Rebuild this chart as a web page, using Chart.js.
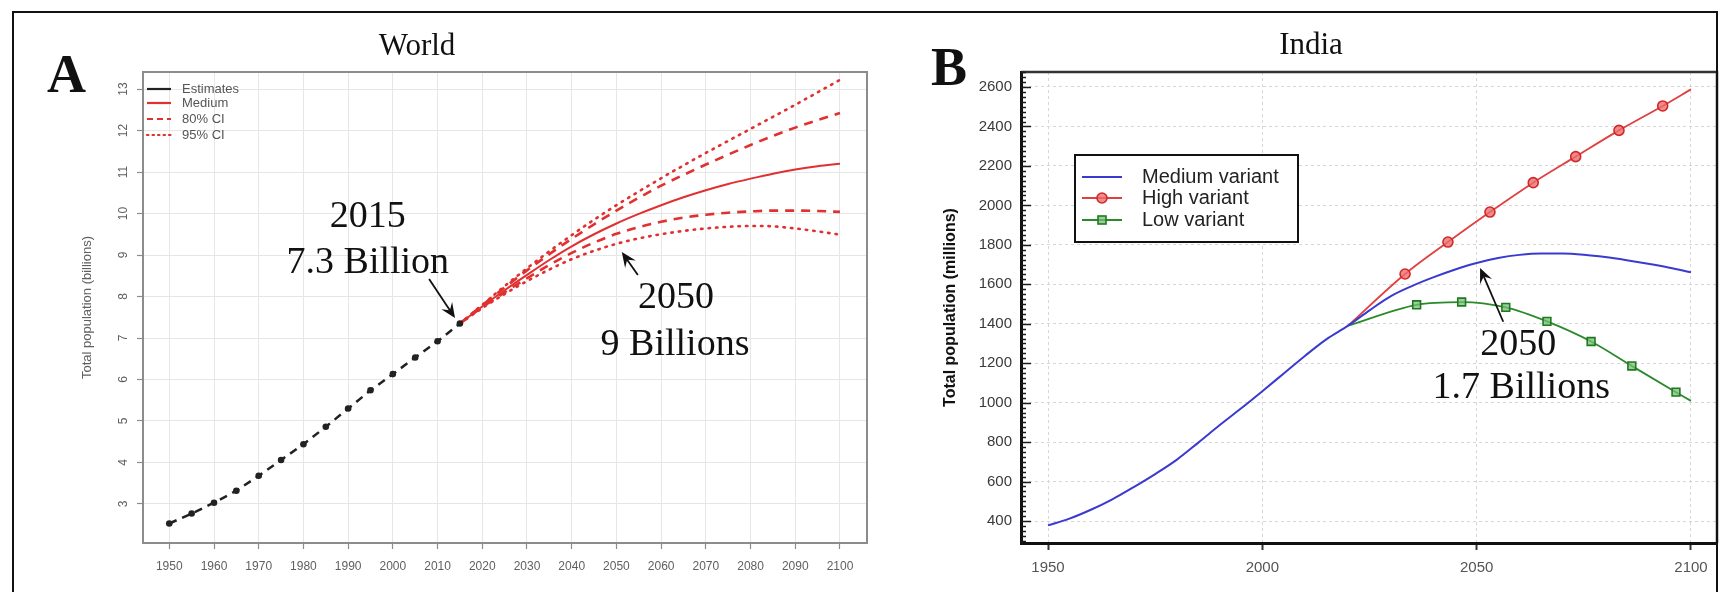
<!DOCTYPE html>
<html lang="en">
<head>
<meta charset="utf-8">
<title>Population projections: World and India</title>
<script src="https://cdn.jsdelivr.net/npm/chart.js@4.4.1/dist/chart.umd.min.js"></script>
<style>
  html, body { margin: 0; padding: 0; background: #ffffff; }
  #page { position: relative; width: 1720px; height: 592px; overflow: hidden; background: #fff; }
  #worldCanvas { position: absolute; left: 0; top: 0; }
  #indiaCanvas { position: absolute; left: 880px; top: 0; }
  #frame { position: absolute; left: 12px; top: 11px; width: 1702px; height: 640px;
           border: 2px solid #111; border-bottom: none; pointer-events: none; }
</style>
</head>
<body>
<div id="page">
  <canvas id="worldCanvas" width="880" height="592"></canvas>
  <canvas id="indiaCanvas" width="840" height="592"></canvas>
  <div id="frame"></div>
</div>
<script>
// ---------- World (billions) ----------
const worldEstYears = [1950, 1955, 1960, 1965, 1970, 1975, 1980, 1985, 1990, 1995, 2000, 2005, 2010, 2015];
const worldEstimates = [2.53, 2.77, 3.03, 3.32, 3.68, 4.06, 4.44, 4.86, 5.30, 5.74, 6.13, 6.53, 6.92, 7.35];

const worldProjYears = [2015, 2020, 2025, 2030, 2035, 2040, 2045, 2050, 2055, 2060, 2065, 2070, 2075, 2080, 2085, 2090, 2095, 2100];
const worldMedium  = [7.35, 7.76, 8.15, 8.52, 8.88, 9.21, 9.50, 9.76, 9.99, 10.20, 10.39, 10.56, 10.71, 10.84, 10.96, 11.06, 11.14, 11.20];
const world80Upper = [7.35, 7.79, 8.22, 8.63, 9.02, 9.39, 9.74, 10.07, 10.38, 10.67, 10.93, 11.18, 11.42, 11.65, 11.87, 12.07, 12.25, 12.42];
const world80Lower = [7.35, 7.74, 8.10, 8.44, 8.76, 9.05, 9.30, 9.51, 9.67, 9.80, 9.90, 9.97, 10.02, 10.05, 10.07, 10.07, 10.06, 10.04];
const world95Upper = [7.35, 7.80, 8.25, 8.68, 9.09, 9.48, 9.85, 10.20, 10.53, 10.85, 11.16, 11.46, 11.75, 12.04, 12.33, 12.62, 12.92, 13.22];
const world95Lower = [7.35, 7.72, 8.06, 8.37, 8.65, 8.90, 9.10, 9.27, 9.40, 9.50, 9.58, 9.64, 9.68, 9.70, 9.69, 9.64, 9.57, 9.49];

const worldXTicks = [1950, 1960, 1970, 1980, 1990, 2000, 2010, 2020, 2030, 2040, 2050, 2060, 2070, 2080, 2090, 2100];
const worldYTicks = [3, 4, 5, 6, 7, 8, 9, 10, 11, 12, 13];
const worldLegendLabels = ['Estimates', 'Medium', '80% CI', '95% CI'];

// ---------- India (millions) ----------
const indiaYears = [1950, 1955, 1960, 1965, 1970, 1975, 1980, 1985, 1990, 1995, 2000, 2005, 2010, 2015, 2020,
                    2025, 2030, 2035, 2040, 2045, 2050, 2055, 2060, 2065, 2070, 2075, 2080, 2085, 2090, 2095, 2100];
const indiaMedium = [378, 412, 457, 510, 572, 638, 710, 796, 885, 970, 1058, 1148, 1238, 1322, 1390,
                     1468, 1540, 1592, 1636, 1675, 1708, 1733, 1749, 1756, 1756, 1750, 1738, 1722, 1704, 1684, 1661];
const indiaHighYears = [2020, 2033.3, 2043.3, 2053.1, 2063.2, 2073.1, 2083.2, 2093.4, 2100];
const indiaHigh      = [1390, 1652, 1814, 1966, 2115, 2247, 2380, 2504, 2588];
const indiaLowYears  = [2020, 2036.0, 2046.5, 2056.8, 2066.4, 2076.7, 2086.2, 2096.5, 2100];
const indiaLow       = [1390, 1496, 1510, 1483, 1412, 1310, 1186, 1053, 1009];

const indiaXTicks = [1950, 2000, 2050, 2100];
const indiaYTicks = [400, 600, 800, 1000, 1200, 1400, 1600, 1800, 2000, 2200, 2400, 2600];

// ---------- helpers ----------
const pairs = (xs, ys) => xs.map((x, i) => ({ x: x, y: ys[i] }));
const RED = '#e03030';
const SANS = "'Liberation Sans', Arial, sans-serif";
const SERIF = "'Liberation Serif', 'Times New Roman', serif";

function drawArrow(ctx, x0, y0, x1, y1) {
  const a = Math.atan2(y1 - y0, x1 - x0);
  const L = 15, W = 6.5;
  const c = Math.cos(a), s = Math.sin(a);
  ctx.save();
  ctx.strokeStyle = '#111';
  ctx.fillStyle = '#111';
  ctx.lineWidth = 1.8;
  ctx.beginPath();
  ctx.moveTo(x0, y0);
  ctx.lineTo(x1 - L * 0.6 * c, y1 - L * 0.6 * s);
  ctx.stroke();
  ctx.beginPath();
  ctx.moveTo(x1, y1);
  ctx.lineTo(x1 - L * c + W * s, y1 - L * s - W * c);
  ctx.lineTo(x1 - L * 0.62 * c, y1 - L * 0.62 * s);
  ctx.lineTo(x1 - L * c - W * s, y1 - L * s + W * c);
  ctx.closePath();
  ctx.fill();
  ctx.restore();
}

function label(ctx, text, x, y, font, align) {
  ctx.font = font;
  ctx.fillStyle = '#111';
  ctx.textAlign = align || 'center';
  ctx.textBaseline = 'middle';
  ctx.fillText(text, x, y);
}

// ---------- World panel decorations: box, legend, notes, headings ----------
const worldDecor = {
  id: 'worldDecor',
  afterDatasetsDraw(chart) {
    const { ctx, chartArea: ca, scales: { x, y } } = chart;
    ctx.save();
    // plot box
    ctx.strokeStyle = '#8c8c8c';
    ctx.lineWidth = 2;
    ctx.strokeRect(ca.left, ca.top, ca.right - ca.left, ca.bottom - ca.top);

    // legend (one row per line style)
    const styles = [chart.data.datasets[0], chart.data.datasets[1], chart.data.datasets[2], chart.data.datasets[4]];
    const dashes = [[], [], [6, 4], [1.5, 4]];
    const rowY = [17, 31, 47, 63];
    worldLegendLabels.forEach((txt, i) => {
      const ds = styles[i];
      const yy = ca.top + rowY[i];
      ctx.save();
      ctx.strokeStyle = ds.borderColor;
      ctx.lineWidth = 2.2;
      ctx.lineCap = ds.borderCapStyle || 'butt';
      ctx.setLineDash(dashes[i]);
      ctx.beginPath();
      ctx.moveTo(ca.left + 4, yy);
      ctx.lineTo(ca.left + 28, yy);
      ctx.stroke();
      ctx.restore();
      ctx.font = '13px ' + SANS;
      ctx.fillStyle = '#555';
      ctx.textAlign = 'left';
      ctx.textBaseline = 'middle';
      ctx.fillText(txt, ca.left + 39, yy);
    });

    // notes with arrows
    const big = '38px ' + SERIF;
    label(ctx, '2015', x.getPixelForValue(1994.4), y.getPixelForValue(9.92), big);
    label(ctx, '7.3 Billion', x.getPixelForValue(1994.4), y.getPixelForValue(8.81), big);
    drawArrow(ctx, x.getPixelForValue(2008.1), y.getPixelForValue(8.42),
                   x.getPixelForValue(2013.9), y.getPixelForValue(7.48));
    label(ctx, '2050', x.getPixelForValue(2063.3), y.getPixelForValue(7.96), big);
    label(ctx, '9 Billions', x.getPixelForValue(2063.1), y.getPixelForValue(6.83), big);
    drawArrow(ctx, x.getPixelForValue(2054.8), y.getPixelForValue(8.52),
                   x.getPixelForValue(2051.2), y.getPixelForValue(9.07));

    // headings
    ctx.fillStyle = '#111';
    ctx.textBaseline = 'alphabetic';
    ctx.font = '31px ' + SERIF;
    ctx.textAlign = 'center';
    ctx.fillText('World', 417, 55);
    ctx.font = 'bold 54px ' + SERIF;
    ctx.textAlign = 'left';
    ctx.fillText('A', 47, 92);
    ctx.restore();
  }
};

// ---------- India panel decorations ----------
const indiaDecor = {
  id: 'indiaDecor',
  afterDatasetsDraw(chart) {
    const { ctx, chartArea: ca, scales: { x, y } } = chart;
    ctx.save();
    // top and right frame of the plot
    ctx.strokeStyle = '#333';
    ctx.lineWidth = 2.5;
    ctx.beginPath();
    ctx.moveTo(ca.left, ca.top);
    ctx.lineTo(ca.right, ca.top);
    ctx.lineTo(ca.right, ca.bottom);
    ctx.stroke();

    // inward major/minor ticks on the value axis
    ctx.strokeStyle = '#1a1a1a';
    ctx.lineWidth = 1.5;
    for (let v = 300; v <= y.max; v += 25) {
      const py = Math.round(y.getPixelForValue(v)) + 0.5;
      const len = (v % 200 === 0) ? 10 : 5;
      ctx.beginPath();
      ctx.moveTo(ca.left, py);
      ctx.lineTo(ca.left + len, py);
      ctx.stroke();
    }

    // legend box
    const bx = ca.left + 54, by = ca.top + 83, bw = 223, bh = 87;
    ctx.fillStyle = '#fff';
    ctx.fillRect(bx, by, bw, bh);
    ctx.strokeStyle = '#111';
    ctx.lineWidth = 2;
    ctx.strokeRect(bx, by, bw, bh);
    const rows = [22, 43, 65];
    chart.data.datasets.forEach((ds, i) => {
      const yy = by + rows[i];
      ctx.strokeStyle = ds.borderColor;
      ctx.lineWidth = 2;
      ctx.beginPath();
      ctx.moveTo(bx + 7, yy);
      ctx.lineTo(bx + 47, yy);
      ctx.stroke();
      if (ds.pointStyle === 'circle') {
        ctx.beginPath();
        ctx.arc(bx + 27, yy, 5, 0, Math.PI * 2);
        ctx.fillStyle = ds.pointBackgroundColor;
        ctx.fill();
        ctx.strokeStyle = ds.pointBorderColor;
        ctx.lineWidth = 1.6;
        ctx.stroke();
      } else if (ds.pointStyle === 'rect') {
        ctx.fillStyle = ds.pointBackgroundColor;
        ctx.fillRect(bx + 23, yy - 4, 8, 8);
        ctx.strokeStyle = ds.pointBorderColor;
        ctx.lineWidth = 1.6;
        ctx.strokeRect(bx + 23, yy - 4, 8, 8);
      }
      ctx.font = '20px ' + SANS;
      ctx.fillStyle = '#222';
      ctx.textAlign = 'left';
      ctx.textBaseline = 'middle';
      ctx.fillText(ds.label, bx + 67, yy);
    });

    // note with arrow
    const big = '38px ' + SERIF;
    label(ctx, '2050', x.getPixelForValue(2059.7), y.getPixelForValue(1294), big);
    label(ctx, '1.7 Billions', x.getPixelForValue(2060.4), y.getPixelForValue(1073), big);
    drawArrow(ctx, x.getPixelForValue(2056.2), y.getPixelForValue(1410),
                   x.getPixelForValue(2050.8), y.getPixelForValue(1683));

    // headings
    ctx.fillStyle = '#111';
    ctx.textBaseline = 'alphabetic';
    ctx.font = '31px ' + SERIF;
    ctx.textAlign = 'center';
    ctx.fillText('India', 431, 54);
    ctx.font = 'bold 54px ' + SERIF;
    ctx.textAlign = 'left';
    ctx.fillText('B', 51, 85);
    ctx.restore();
  }
};

const markerRadius = (r) => (c) => (c.dataIndex === 0 || c.dataIndex === c.dataset.data.length - 1) ? 0 : r;

// ---------- World chart ----------
new Chart(document.getElementById('worldCanvas'), {
  type: 'line',
  data: {
    datasets: [
      { label: 'Estimates', data: pairs(worldEstYears, worldEstimates), borderColor: '#222', borderWidth: 2.5,
        borderDash: [8, 6], pointRadius: 3.3, pointBackgroundColor: '#222', pointBorderWidth: 0, tension: 0 },
      { label: 'Medium', data: pairs(worldProjYears, worldMedium), borderColor: RED, borderWidth: 2,
        pointRadius: 0, cubicInterpolationMode: 'monotone' },
      { label: '80% CI', data: pairs(worldProjYears, world80Upper), borderColor: RED, borderWidth: 2.6,
        borderDash: [9, 7], pointRadius: 0, cubicInterpolationMode: 'monotone' },
      { label: '80% CI lower', data: pairs(worldProjYears, world80Lower), borderColor: RED, borderWidth: 2.6,
        borderDash: [9, 7], pointRadius: 0, cubicInterpolationMode: 'monotone' },
      { label: '95% CI', data: pairs(worldProjYears, world95Upper), borderColor: RED, borderWidth: 2.6,
        borderDash: [1.5, 6], borderCapStyle: 'round', pointRadius: 0, cubicInterpolationMode: 'monotone' },
      { label: '95% CI lower', data: pairs(worldProjYears, world95Lower), borderColor: RED, borderWidth: 2.6,
        borderDash: [1.5, 6], borderCapStyle: 'round', pointRadius: 0, cubicInterpolationMode: 'monotone' }
    ]
  },
  options: {
    responsive: false,
    animation: false,
    events: [],
    layout: { padding: { left: 0, top: 72, right: 13, bottom: 0 } },
    plugins: { legend: { display: false }, tooltip: { enabled: false }, title: { display: false } },
    scales: {
      x: {
        type: 'linear', min: 1944.12, max: 2106.04,
        afterBuildTicks: (s) => { s.ticks = worldXTicks.map(v => ({ value: v })); },
        afterFit: (s) => { s.height = 49; },
        grid: { color: '#e6e6e6', lineWidth: 1, drawTicks: true, tickLength: 6, tickColor: '#8c8c8c', tickWidth: 1.2 },
        border: { display: false },
        ticks: { font: { family: SANS, size: 12 }, color: '#606060', padding: 10, autoSkip: false,
                 maxRotation: 0, minRotation: 0, callback: (v) => String(v) }
      },
      y: {
        type: 'linear', min: 2.06, max: 13.41,
        afterBuildTicks: (s) => { s.ticks = worldYTicks.map(v => ({ value: v })); },
        afterFit: (s) => { s.width = 143; },
        grid: { color: '#e6e6e6', lineWidth: 1, drawTicks: true, tickLength: 6, tickColor: '#8c8c8c', tickWidth: 1.2 },
        border: { display: false },
        ticks: { font: { family: SANS, size: 12 }, color: '#606060', padding: 7, autoSkip: false,
                 minRotation: 90, maxRotation: 90, crossAlign: 'center', callback: (v) => String(v) },
        title: { display: true, text: 'Total population (billions)', font: { family: SANS, size: 13 },
                 color: '#606060', padding: { top: 80, bottom: 0 } }
      }
    }
  },
  plugins: [worldDecor]
});

// ---------- India chart ----------
new Chart(document.getElementById('indiaCanvas'), {
  type: 'line',
  data: {
    datasets: [
      { label: 'Medium variant', data: pairs(indiaYears, indiaMedium), borderColor: '#3a3ad0', borderWidth: 2,
        pointRadius: 0, cubicInterpolationMode: 'monotone' },
      { label: 'High variant', data: pairs(indiaHighYears, indiaHigh), borderColor: '#e04040', borderWidth: 1.8,
        pointStyle: 'circle', pointRadius: markerRadius(5), pointBackgroundColor: 'rgba(236,110,110,0.8)',
        pointBorderColor: '#d02828', pointBorderWidth: 1.6, cubicInterpolationMode: 'monotone' },
      { label: 'Low variant', data: pairs(indiaLowYears, indiaLow), borderColor: '#2a8a2a', borderWidth: 1.8,
        pointStyle: 'rect', pointRadius: markerRadius(5.5), pointBackgroundColor: 'rgba(120,190,120,0.75)',
        pointBorderColor: '#1e7a1e', pointBorderWidth: 1.6, cubicInterpolationMode: 'monotone' }
    ]
  },
  options: {
    responsive: false,
    animation: false,
    events: [],
    layout: { padding: { left: 0, top: 72, right: 3, bottom: 0 } },
    plugins: { legend: { display: false }, tooltip: { enabled: false }, title: { display: false } },
    scales: {
      x: {
        type: 'linear', min: 1943.7, max: 2106.07,
        afterBuildTicks: (s) => { s.ticks = indiaXTicks.map(v => ({ value: v })); },
        afterFit: (s) => { s.height = 49; },
        grid: { color: '#d6d6d6', lineWidth: 1, drawTicks: true, tickLength: 7, tickColor: '#333', tickWidth: 2 },
        border: { display: true, color: '#111', width: 3, dash: [3, 3] },
        ticks: { font: { family: SANS, size: 15 }, color: '#555', padding: 9, autoSkip: false,
                 maxRotation: 0, minRotation: 0, callback: (v) => String(v) }
      },
      y: {
        type: 'linear', min: 288.5, max: 2676,
        afterBuildTicks: (s) => { s.ticks = indiaYTicks.map(v => ({ value: v })); },
        afterFit: (s) => { s.width = 141; },
        grid: { color: '#d6d6d6', lineWidth: 1, drawTicks: false },
        border: { display: true, color: '#111', width: 3, dash: [3, 3] },
        ticks: { font: { family: SANS, size: 15 }, color: '#3a3a3a', padding: 9, autoSkip: false,
                 callback: (v) => String(v) },
        title: { display: true, text: 'Total population (millions)', font: { family: SANS, size: 16, weight: 'bold' },
                 color: '#111', padding: { top: 61, bottom: 0 } }
      }
    }
  },
  plugins: [indiaDecor]
});
</script>
</body>
</html>
